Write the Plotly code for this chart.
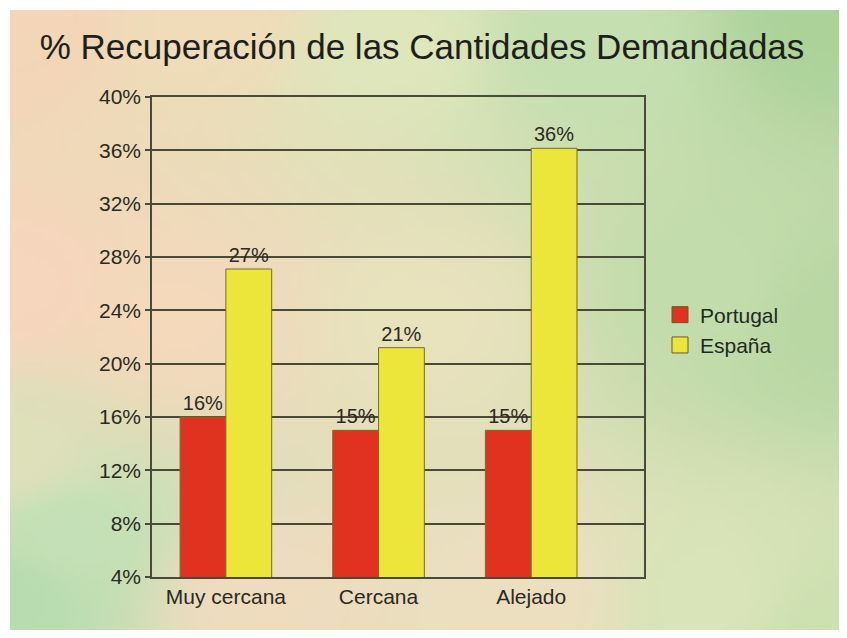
import base64
import struct
import zlib

import plotly.graph_objects as go

# ---------------- data ----------------
categories = ["Muy cercana", "Cercana", "Alejado"]
portugal = [16.0, 15.0, 15.0]
espana = [27.1, 21.2, 36.15]
y_ticks = [4, 8, 12, 16, 20, 24, 28, 32, 36, 40]
y_tick_labels = [f"{t}%" for t in y_ticks]
title_text = "% Recuperación de las Cantidades Demandadas"

# ---------------- layout geometry (page has an 8px body margin on every side) ----------------
OFF = 8
PAGE_W, PAGE_H = 847, 638
W, H = PAGE_W - 2 * OFF, PAGE_H - 2 * OFF
ML, MT = 152 - OFF, 97 - OFF
MR, MB = W - (644 - OFF), H - (577 - OFF)
PW, PH = W - ML - MR, H - MT - MB

# ---------------- gradient background (PNG data URI) ----------------
ctrl = [
    (0.00, 0.00, (243, 213, 183)),
    (0.25, 0.00, (240, 220, 184)),
    (0.45, 0.05, (223, 230, 188)),
    (0.70, 0.05, (197, 223, 176)),
    (1.00, 0.00, (172, 210, 154)),
    (0.00, 0.45, (246, 214, 188)),
    (0.00, 0.72, (222, 224, 186)),
    (0.00, 0.95, (184, 220, 176)),
    (0.07, 0.85, (196, 224, 182)),
    (0.20, 0.50, (244, 217, 187)),
    (0.30, 0.95, (239, 220, 191)),
    (0.50, 0.50, (232, 226, 189)),
    (0.62, 0.95, (236, 223, 192)),
    (0.85, 0.45, (195, 220, 171)),
    (1.00, 0.50, (184, 215, 163)),
    (0.85, 0.95, (217, 228, 184)),
    (1.00, 1.00, (205, 224, 176)),
]


def color_at(u, v):
    ws, acc = 0.0, [0.0, 0.0, 0.0]
    for cu, cv, c in ctrl:
        d2 = (u - cu) ** 2 + (v - cv) ** 2
        if d2 < 1e-9:
            return c
        w = 1.0 / (d2 ** 1.6)
        ws += w
        for i in range(3):
            acc[i] += w * c[i]
    return tuple(int(round(a / ws)) for a in acc)


IW, IH = 140, 105
rows = []
for j in range(IH):
    row = bytearray()
    for i in range(IW):
        row.extend(color_at(i / (IW - 1), j / (IH - 1)))
    rows.append(row)


def make_png(w, h, rows):
    raw = b"".join(b"\x00" + bytes(r) for r in rows)

    def chunk(tag, data):
        c = struct.pack(">I", len(data)) + tag + data
        return c + struct.pack(">I", zlib.crc32(tag + data) & 0xFFFFFFFF)

    return (b"\x89PNG\r\n\x1a\n"
            + chunk(b"IHDR", struct.pack(">IIBBBBB", w, h, 8, 2, 0, 0, 0))
            + chunk(b"IDAT", zlib.compress(raw, 9))
            + chunk(b"IEND", b""))


bg_uri = "data:image/png;base64," + base64.b64encode(make_png(IW, IH, rows)).decode()

# background extent in figure pixels
bg_x0, bg_y0, bg_x1, bg_y1 = 10 - OFF, 10 - OFF, W, H

# ---------------- figure ----------------
bar_line = dict(color="#7a6a2a", width=1)
label_font = dict(family="Liberation Sans, Arial, sans-serif", size=20, color="#2a2a22")

fig = go.Figure()
fig.add_trace(go.Bar(
    x=categories, y=portugal, name="Portugal", showlegend=False,
    marker=dict(color="#e0321e", line=bar_line),
    text=[f"{v:.0f}%" for v in portugal], textposition="outside",
    textfont=label_font, cliponaxis=False,
))
fig.add_trace(go.Bar(
    x=categories, y=espana, name="España", showlegend=False,
    marker=dict(color="#ede63a", line=bar_line),
    text=[f"{v:.0f}%" for v in espana], textposition="outside",
    textfont=label_font, cliponaxis=False,
))
# legend entries with larger square symbols
for nm, col in [("Portugal", "#e0321e"), ("España", "#ede63a")]:
    fig.add_trace(go.Scatter(
        x=[None], y=[None], mode="markers", name=nm,
        marker=dict(symbol="square", size=16, color=col,
                    line=dict(color="#6a5a2a", width=1)),
    ))

fig.update_layout(
    width=W, height=H,
    margin=dict(l=ML, r=MR, t=MT, b=MB, pad=0),
    paper_bgcolor="white",
    plot_bgcolor="rgba(0,0,0,0)",
    barmode="group",
    bargap=0.4,
    bargroupgap=0,
    font=dict(family="Liberation Sans, Arial, sans-serif", color="#2a2a22"),
    title=dict(
        text=title_text,
        font=dict(size=35, color="#1e1e1a"),
        x=(422 - OFF) / W, xref="container", xanchor="center",
        y=1 - (47 - OFF) / H, yref="container", yanchor="middle",
    ),
    legend=dict(
        x=(660 - OFF - ML) / PW, xanchor="left",
        y=(H - MB - (330 - OFF)) / PH, yanchor="middle",
        font=dict(size=21, color="#1e2a1e"),
        bgcolor="rgba(0,0,0,0)",
        tracegroupgap=0,
        itemwidth=30,
    ),
    images=[dict(
        source=bg_uri, xref="paper", yref="paper",
        x=(bg_x0 - ML) / PW, y=(H - MB - bg_y0) / PH,
        sizex=(bg_x1 - bg_x0) / PW, sizey=(bg_y1 - bg_y0) / PH,
        xanchor="left", yanchor="top", sizing="stretch", layer="below",
    )],
    xaxis=dict(
        range=[-0.484, 2.739],
        showline=True, mirror=True, linecolor="#4a4a3a", linewidth=1.5,
        showgrid=False, ticks="",
        tickfont=dict(size=21, color="#2a2a22"),
    ),
    yaxis=dict(
        range=[4, 40],
        tickvals=y_ticks, ticktext=y_tick_labels,
        showline=True, mirror=True, linecolor="#4a4a3a", linewidth=1.5,
        showgrid=True, gridcolor="#4a4a3a", gridwidth=1.5,
        ticks="outside", ticklen=5, tickcolor="#4a4a3a", tickwidth=1.5,
        tickfont=dict(size=21, color="#2a2a22"),
        zeroline=False,
    ),
)

fig.write_html("out.html")
